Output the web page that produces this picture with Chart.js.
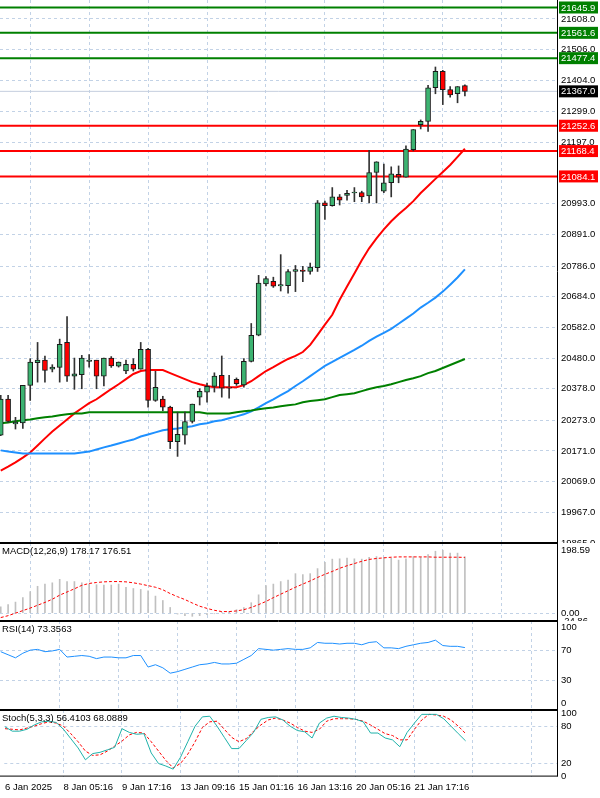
<!DOCTYPE html>
<html><head><meta charset="utf-8">
<script src="https://cdn.jsdelivr.net/npm/chart.js@4/dist/chart.umd.min.js"></script>
<style>
html,body{margin:0;padding:0;background:#fff;width:600px;height:798px;overflow:hidden}
.p{position:absolute;left:0;width:600px}
</style></head><body>
<div class="p" style="top:0;height:543px"><canvas id="main"></canvas></div>
<div class="p" style="top:543px;height:78px"><canvas id="macd"></canvas></div>
<div class="p" style="top:621px;height:89px"><canvas id="rsi"></canvas></div>
<div class="p" style="top:710px;height:88px"><canvas id="stoch"></canvas></div>
<script>
const opens=[20224,20344,20261,20264,20389,20465,20473,20443,20449,20532,20420,20425,20469,20473,20420,20480,20453,20437,20459,20443,20509,20339,20344,20317,20202,20224,20269,20350,20367,20386,20423,20383,20409,20391,20469,20556,20727,20735,20720,20721,20768,20773,20768,20781,20996,20987,21016,21021,21029,21030,21019,21097,21035,21063,21091,21082,21173,21256,21267,21379,21434,21373,21359,21386];
const highs=[20356,20356,20283,20389,20478,20532,20487,20458,20543,20618,20480,20489,20492,20473,20480,20485,20467,20473,20478,20532,20512,20436,20353,20320,20300,20300,20327,20378,20397,20431,20487,20423,20414,20478,20595,20755,20751,20749,20824,20774,20788,20785,20796,21004,21002,21047,21024,21038,21047,21035,21171,21133,21125,21116,21119,21186,21240,21272,21387,21448,21437,21383,21383,21389];
const lows=[20222,20266,20244,20246,20339,20400,20400,20434,20400,20402,20376,20378,20450,20378,20387,20449,20450,20428,20437,20443,20317,20336,20305,20179,20153,20194,20264,20324,20333,20367,20350,20347,20389,20383,20467,20554,20720,20715,20703,20696,20701,20734,20759,20768,20941,20985,20989,21005,21000,21000,20996,20996,21030,21016,21063,21082,21169,21242,21234,21359,21323,21348,21329,21352];
const closes=[20344,20269,20266,20389,20467,20473,20439,20450,20526,20420,20428,20480,20473,20420,20480,20454,20467,20459,20443,20509,20339,20383,20317,20202,20226,20269,20327,20369,20386,20420,20380,20380,20395,20469,20556,20729,20744,20719,20724,20768,20774,20768,20783,20996,20987,21016,21005,21028,21031,21016,21097,21133,21063,21093,21082,21175,21240,21267,21379,21434,21373,21355,21383,21367];
const maRed=[20106,20119,20133,20149,20166,20189,20213,20236,20256,20276,20296,20313,20330,20343,20360,20377,20393,20410,20427,20437,20440,20440,20440,20430,20420,20410,20400,20393,20387,20383,20383,20383,20383,20390,20403,20420,20437,20450,20464,20477,20487,20500,20524,20557,20591,20624,20674,20718,20761,20805,20845,20878,20908,20935,20958,20979,21002,21029,21052,21076,21099,21122,21149,21176];
const maBlue=[20173,20169,20166,20163,20163,20163,20163,20163,20163,20163,20163,20166,20169,20176,20183,20189,20196,20203,20209,20219,20226,20233,20240,20243,20246,20250,20253,20260,20263,20270,20273,20280,20286,20293,20303,20316,20330,20343,20357,20370,20387,20403,20420,20437,20454,20467,20481,20494,20507,20521,20537,20551,20564,20577,20594,20611,20628,20648,20664,20681,20701,20724,20748,20775];
const maGreen=[20263,20266,20270,20273,20276,20280,20283,20286,20290,20293,20296,20296,20300,20300,20300,20300,20300,20300,20300,20300,20300,20300,20300,20300,20300,20300,20300,20300,20296,20296,20296,20296,20300,20303,20306,20310,20313,20316,20320,20323,20326,20333,20337,20340,20343,20350,20357,20360,20363,20370,20377,20383,20387,20393,20400,20407,20413,20420,20430,20437,20447,20457,20467,20477];
const greenLevels=[21645.9,21561.6,21477.4];
const redLevels=[21252.6,21168.4,21084.1];
const lastPrice=21367.0;
const priceTicks=[21608.0,21506.0,21404.0,21299.0,21197.0,20993.0,20891.0,20786.0,20684.0,20582.0,20480.0,20378.0,20273.0,20171.0,20069.0,19967.0,19865.0];
const macdHist=[20,27,35,49,68,85,92,96,107,100,100,96,92,90,89,89,92,82,78,75,71,54,40,18,-3,-8,-10,-8,-5,-2,2,5,11,18,33,58,87,92,100,105,125,122,125,141,161,171,172,174,172,171,177,179,176,174,168,172,179,177,185,196,199,190,190,178.17];
const macdSignal=[-14,-8,0,8,16,25,34,44,57,67,77,88,94,97,99,100,100,99,96,92,87,82,74,62,52,43,32,22,15,9,5,5,7,11,18,27,37,49,60,71,82,92,102,113,123,132,142,150,157,164,170,173,175,177,178,178,178,178,178,177,177,177,177,176.51];
const rsiVals=[68,64,60,66,70,71,68,69,71,61,62,63,62,59,61,61,60,60,63,63,48,51,47,40,42,45,48,51,52,54,52,52,53,58,63,72,71,70,71,72,71,71,73,80,79,79,78,79,79,77,80,81,73,73,72,75,77,79,80,83,76,75,75,73.3563];
const stochMain=[79,72,72,75,82,87,88,86,75,60,45,26,36,38,42,46,76,70,67,68,37,20,16,11,30,55,80,95,96,80,62,44,44,57,70,91,94,95,90,80,73,71,61,85,93,96,94,93,91,87,69,69,61,58,47,70,85,99,99,99,92,80,68,56.4103];
const stochSignal=[76,75,74,77,80,84,87,85,80,68,55,40,33,34,40,48,56,66,70,69,55,40,25,13,20,35,55,78,87,88,75,62,55,60,72,82,90,93,90,85,78,72,70,75,88,92,92,92,91,88,82,75,68,65,58,58,75,90,99,98,96,90,80,68.0889];
const dateTicks=[0,8,16,24,32,40,48,56];
const dateLabels=['6 Jan 2025','8 Jan 05:16','9 Jan 17:16','13 Jan 09:16','15 Jan 01:16','16 Jan 13:16','20 Jan 05:16','21 Jan 17:16'];

const FONT='Liberation Sans';
Chart.defaults.font.family=FONT;
Chart.defaults.font.size=9.5;
Chart.defaults.color='#000';
Chart.defaults.animation=false;
const XMIN=-0.1, XMAX=75.5, GRID='#c2d2e6';
const idx=opens.map((_,i)=>i);

function xScale(showLabels){
  return {type:'linear',min:XMIN,max:XMAX,offset:false,
    afterBuildTicks:s=>{s.ticks=(showLabels?dateTicks.concat([64,72]):[8,16,24,32,40,48,56,64,72]).map(v=>({value:v}));},
    grid:{color:c=>(c.tick&&c.tick.value===0)?'rgba(0,0,0,0)':GRID,lineWidth:1,drawTicks:false},
    border:{display:false,dash:[3,3]},
    ticks:{display:showLabels,maxRotation:0,autoSkip:false,align:'start',padding:5,
      callback:(v)=>{const k=dateTicks.indexOf(v);return k>=0?dateLabels[k]:'';}}};
}
function yScale(min,max,ticks,gridVals,fmt){
  return {type:'linear',position:'right',min:min,max:max,
    afterBuildTicks:s=>{s.ticks=ticks.map(v=>({value:v}));},
    afterFit:s=>{s.width=43;s.paddingTop=0;s.paddingBottom=0;},
    grid:{color:c=>gridVals.includes(c.tick&&c.tick.value)?GRID:'rgba(0,0,0,0)',drawTicks:false},
    border:{display:false,dash:[3,3]},
    ticks:{padding:4,callback:fmt}};
}
const frame={id:'frame',afterDraw(ch,a,o){const c=ch.ctx,ar=ch.chartArea;c.save();c.setLineDash([]);c.strokeStyle='#000';c.lineWidth=1;
  c.beginPath();
  if(!o.noTop){c.moveTo(0,ar.top+0.5);c.lineTo(ar.right,ar.top+0.5);}
  c.moveTo(0,ar.bottom-0.5);c.lineTo(ar.right+0.5,ar.bottom-0.5);
  c.moveTo(ar.right+0.5,ar.top);c.lineTo(ar.right+0.5,ar.bottom);c.stroke();
  if(o.title){c.font='9.5px '+FONT;c.fillStyle='#000';c.textBaseline='top';c.fillText(o.title,2,ar.top+4);}c.restore();}};
const common=(extra)=>Object.assign({responsive:true,maintainAspectRatio:false,layout:{padding:0}},extra);
const plug=(f)=>({legend:{display:false},tooltip:{enabled:false},frame:f});

const bodyLow=idx.map(i=>Math.min(opens[i],closes[i]));
const bodyHigh=idx.map(i=>Math.max(Math.max(opens[i],closes[i]),Math.min(opens[i],closes[i])+3));
const up=idx.map(i=>closes[i]>=opens[i]);
function hline(v,color,w){return {type:'line',data:[{x:XMIN,y:v},{x:XMAX,y:v}],borderColor:color,borderWidth:w,pointRadius:0,order:5};}
const levelLabels={id:'levelLabels',afterDraw(ch){const c=ch.ctx,ys=ch.scales.y,x0=ch.chartArea.right+2;c.save();c.font='9.5px '+FONT;c.textBaseline='middle';
  const box=(v,bg)=>{const y=ys.getPixelForValue(v);c.fillStyle=bg;c.fillRect(x0,y-6,39,12);c.fillStyle='#fff';c.fillText(v.toFixed(1),x0+2,y+0.5);};
  greenLevels.forEach(v=>box(v,'#008000'));redLevels.forEach(v=>box(v,'#ff0000'));box(lastPrice,'#000');c.restore();}};
new Chart(document.getElementById('main'),{
  data:{datasets:[
    hline(lastPrice,'#c4cede',1),
    ...greenLevels.map(v=>hline(v,'#008000',2)),
    ...redLevels.map(v=>hline(v,'#ff0000',2)),
    {type:'line',data:idx.map(i=>({x:i,y:maGreen[i]})),borderColor:'#008000',borderWidth:2,pointRadius:0,order:4},
    {type:'line',data:idx.map(i=>({x:i,y:maBlue[i]})),borderColor:'#1e90ff',borderWidth:2,pointRadius:0,order:4},
    {type:'line',data:idx.map(i=>({x:i,y:maRed[i]})),borderColor:'#ff0000',borderWidth:2,pointRadius:0,order:4},
    {type:'bar',data:idx.map(i=>({x:i,y:[lows[i],highs[i]]})),backgroundColor:'#333',barThickness:1,grouped:false,order:2},
    {type:'bar',data:idx.map(i=>({x:i,y:[bodyLow[i],bodyHigh[i]]})),backgroundColor:up.map(u=>u?'#3cb371':'#ff0000'),borderColor:'#1a1a1a',borderWidth:1,borderSkipped:false,barThickness:5,grouped:false,order:1}
  ]},
  options:common({scales:{x:xScale(false),y:yScale(19865,21670.8,priceTicks,priceTicks,v=>v.toFixed(1))},plugins:plug({noTop:true})}),
  plugins:[frame,levelLabels]
});
new Chart(document.getElementById('macd'),{
  data:{datasets:[
    {type:'line',data:idx.map(i=>({x:i,y:macdSignal[i]})),borderColor:'#ff0000',borderWidth:1,borderDash:[3,2],pointRadius:0,order:1},
    {type:'bar',data:idx.map(i=>({x:i,y:macdHist[i]})),backgroundColor:'#c0c0c0',barThickness:1,order:2}
  ]},
  options:common({scales:{x:xScale(false),y:yScale(-24.86,222,[198.59,0,-24.86],[0],v=>v.toFixed(2))},plugins:plug({title:'MACD(12,26,9) 178.17 176.51'})}),
  plugins:[frame]
});
new Chart(document.getElementById('rsi'),{
  data:{datasets:[{type:'line',data:idx.map(i=>({x:i,y:rsiVals[i]})),borderColor:'#1e90ff',borderWidth:1,pointRadius:0}]},
  options:common({scales:{x:xScale(false),y:yScale(-8,108,[100,70,30,0],[70,30],v=>String(v))},plugins:plug({title:'RSI(14) 73.3563'})}),
  plugins:[frame]
});
new Chart(document.getElementById('stoch'),{
  data:{datasets:[
    {type:'line',data:idx.map(i=>({x:i,y:stochMain[i]})),borderColor:'#20b2aa',borderWidth:1,pointRadius:0},
    {type:'line',data:idx.map(i=>({x:i,y:stochSignal[i]})),borderColor:'#ff0000',borderWidth:1,borderDash:[3,2],pointRadius:0}
  ]},
  options:common({scales:{x:xScale(true),y:yScale(-1,106,[100,80,20,0],[80,20],v=>String(v))},plugins:plug({title:'Stoch(5,3,3) 56.4103 68.0889'})}),
  plugins:[frame]
});
</script></body></html>
